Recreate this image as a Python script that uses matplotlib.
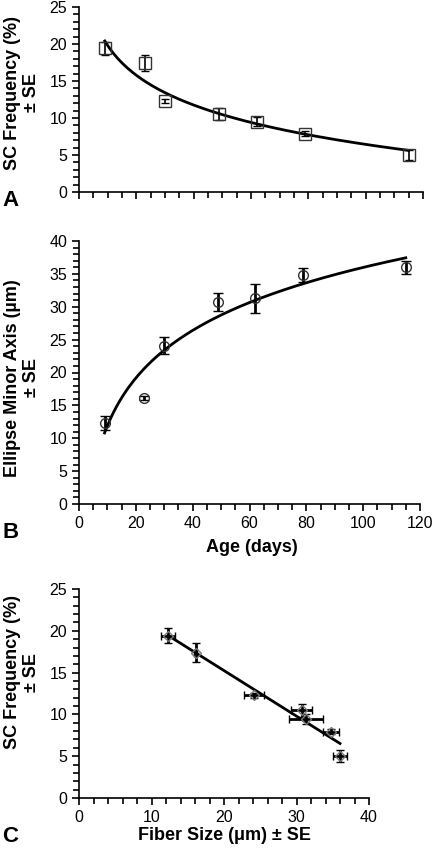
import numpy as np
import matplotlib
matplotlib.use('Agg')
import matplotlib.pyplot as plt
from matplotlib.ticker import MultipleLocator

plt.rcParams['font.family'] = ['Liberation Sans', 'DejaVu Sans']

# data
age = [9, 23, 30, 49, 62, 79, 115]
sc_freq = [19.4, 17.4, 12.3, 10.5, 9.5, 7.9, 5.0]
sc_err = [0.9, 1.1, 0.3, 0.8, 0.6, 0.3, 0.7]
minor_axis = [12.3, 16.1, 24.1, 30.7, 31.3, 34.8, 36.0]
minor_err = [1.1, 0.3, 1.3, 1.4, 2.2, 1.1, 1.0]
fiber_err = [1.0, 0.2, 1.4, 1.4, 2.3, 1.1, 1.0]

W, H = 433, 848
fig = plt.figure(figsize=(W / 100, H / 100), dpi=100)

def px_axes(l, t, r, b):
    return fig.add_axes([l / W, 1 - b / H, (r - l) / W, (b - t) / H])

def style(ax):
    for s in ['top', 'right']:
        ax.spines[s].set_visible(False)
    for s in ['left', 'bottom']:
        ax.spines[s].set_linewidth(1.2)
    ax.tick_params(which='both', direction='out', width=1.2, labelsize=11.5)
    ax.tick_params(which='major', length=5)
    ax.tick_params(which='minor', length=4)

ax_a = px_axes(79, 7, 423, 192)
ax_b = px_axes(79, 241, 420, 504)
ax_c = px_axes(79, 589, 369, 798)

# log fits
xs = np.linspace(min(age), max(age), 200)
ka = np.polyfit(np.log(age), sc_freq, 1)
kb = np.polyfit(np.log(age), minor_axis, 1)
kc = np.polyfit(minor_axis, sc_freq, 1)

# panel A
ax_a.plot(xs, np.polyval(ka, np.log(xs)), color='black', lw=2)
ax_a.errorbar(age, sc_freq, yerr=sc_err, fmt='s', ms=8, mfc='none',
              mec='#333333', mew=1, ecolor='black', elinewidth=1.2,
              capsize=3, capthick=1.2)
ax_a.set_xlim(0, 120)
ax_a.set_ylim(0, 25)
ax_a.xaxis.set_major_locator(MultipleLocator(20))
ax_a.xaxis.set_minor_locator(MultipleLocator(5))
ax_a.yaxis.set_major_locator(MultipleLocator(5))
ax_a.yaxis.set_minor_locator(MultipleLocator(1))
ax_a.set_xticklabels([])
style(ax_a)

# panel B
ax_b.plot(xs, np.polyval(kb, np.log(xs)), color='black', lw=2)
ax_b.errorbar(age, minor_axis, yerr=minor_err, fmt='o', ms=7, mfc='none',
              mec='#333333', mew=1, ecolor='black', elinewidth=2,
              capsize=3.5, capthick=2)
ax_b.set_xlim(0, 120)
ax_b.set_ylim(0, 40)
ax_b.xaxis.set_major_locator(MultipleLocator(20))
ax_b.xaxis.set_minor_locator(MultipleLocator(5))
ax_b.yaxis.set_major_locator(MultipleLocator(5))
ax_b.yaxis.set_minor_locator(MultipleLocator(1))
style(ax_b)

# panel C
xl = np.linspace(min(minor_axis), max(minor_axis), 50)
ax_c.plot(xl, np.polyval(kc, xl), color='black', lw=2)
ax_c.errorbar(minor_axis, sc_freq, xerr=fiber_err, yerr=sc_err, fmt='D',
              ms=5, mfc='none', mec='#777777', mew=1, ecolor='black',
              elinewidth=2, capsize=3, capthick=2)
ax_c.set_xlim(0, 40)
ax_c.set_ylim(0, 25)
ax_c.xaxis.set_major_locator(MultipleLocator(10))
ax_c.xaxis.set_minor_locator(MultipleLocator(2))
ax_c.yaxis.set_major_locator(MultipleLocator(5))
ax_c.yaxis.set_minor_locator(MultipleLocator(1))
style(ax_c)

# labels
lab = dict(rotation=90, ha='center', va='center', multialignment='center',
           fontsize=13, fontweight='bold')
fig.text(22 / W, 1 - 93 / H, 'SC Frequency (%)\n± SE', **lab)
fig.text(22 / W, 1 - 378 / H, 'Ellipse Minor Axis (µm)\n± SE', **lab)
fig.text(22 / W, 1 - 672 / H, 'SC Frequency (%)\n± SE', **lab)
fig.text(252 / W, 1 - 547 / H, 'Age (days)', ha='center', va='center',
         fontsize=13, fontweight='bold')
fig.text(224 / W, 1 - 836 / H, 'Fiber Size (μm) ± SE', ha='center',
         va='center', fontsize=13, fontweight='bold')
for letter, y in [('A', 201), ('B', 532), ('C', 836)]:
    fig.text(2 / W, 1 - y / H, letter, ha='left', va='center',
             fontsize=16, fontweight='bold')

fig.savefig('out.png', dpi=100)
